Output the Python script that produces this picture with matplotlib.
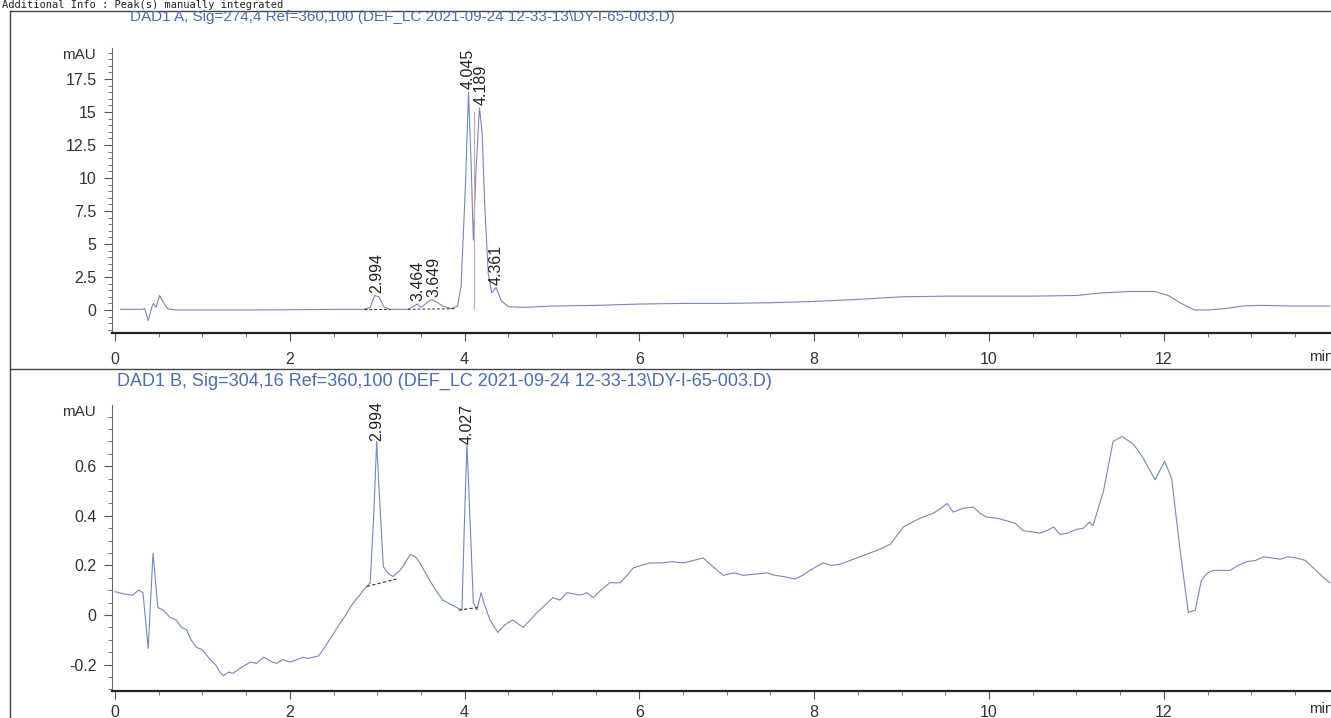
import numpy as np
import matplotlib
matplotlib.use('Agg')
import matplotlib.pyplot as plt
from matplotlib.lines import Line2D
from matplotlib.ticker import MultipleLocator

plt.rcParams['font.family'] = ['Liberation Sans', 'DejaVu Sans']

# DAD1 A (274 nm)
time_a = [0.06, 0.30, 0.34, 0.38, 0.42, 0.44, 0.47, 0.51, 0.55, 0.60, 0.70, 1.50, 2.00, 2.50,
          2.85, 2.92, 2.97, 3.02, 3.08, 3.15, 3.35, 3.42, 3.46, 3.50, 3.56, 3.62, 3.68, 3.75,
          3.85, 3.92, 3.96, 4.01, 4.045, 4.075, 4.10, 4.13, 4.17, 4.20, 4.23, 4.27, 4.31, 4.36,
          4.42, 4.50, 4.70, 5.00, 5.50, 6.00, 6.50, 7.00, 7.50, 8.00, 8.50, 9.00, 9.50, 10.00,
          10.50, 11.00, 11.30, 11.60, 11.90, 12.05, 12.20, 12.35, 12.50, 12.70, 12.90, 13.10,
          13.50, 13.90]
mau_a = [0.05, 0.05, 0.10, -0.80, 0.20, 0.50, 0.20, 1.10, 0.60, 0.10, 0.00, 0.00, 0.02, 0.05,
         0.05, 0.20, 1.10, 1.00, 0.20, 0.05, 0.05, 0.30, 0.45, 0.20, 0.50, 0.80, 0.60, 0.30,
         0.10, 0.30, 1.80, 9.5, 16.5, 11.0, 5.3, 10.5, 15.3, 13.5, 8.0, 2.8, 1.3, 1.7,
         0.70, 0.25, 0.20, 0.30, 0.35, 0.45, 0.50, 0.50, 0.55, 0.65, 0.80, 1.00, 1.05, 1.05,
         1.05, 1.10, 1.30, 1.40, 1.40, 1.10, 0.50, 0.00, 0.00, 0.10, 0.30, 0.35,
         0.30, 0.30]
peaks_a = [2.994, 3.464, 3.649, 4.045, 4.189, 4.361]
peaks_a_h = [1.1, 0.45, 0.8, 16.5, 15.3, 1.7]

# DAD1 B (304 nm)
time_b = [0.00, 0.10, 0.20, 0.27, 0.32, 0.38, 0.435, 0.49, 0.55, 0.63, 0.70, 0.76, 0.82, 0.87,
          0.93, 1.00, 1.09, 1.15, 1.20, 1.24, 1.30, 1.35, 1.43, 1.50, 1.55, 1.62, 1.70, 1.75,
          1.80, 1.85, 1.92, 2.00, 2.08, 2.15, 2.20, 2.27, 2.33, 2.40, 2.50, 2.58, 2.64, 2.69,
          2.75, 2.80, 2.84, 2.92, 2.96, 2.994, 3.03, 3.07, 3.12, 3.18, 3.26, 3.32, 3.38, 3.45,
          3.52, 3.60, 3.67, 3.75, 3.83, 3.91, 3.97, 4.00, 4.027, 4.06, 4.10, 4.14, 4.19, 4.22,
          4.29, 4.38, 4.46, 4.55, 4.67, 4.75, 4.83, 4.92, 5.01, 5.09, 5.17, 5.25, 5.32, 5.40,
          5.47, 5.56, 5.66, 5.78, 5.86, 5.93, 6.02, 6.12, 6.25, 6.38, 6.50, 6.62, 6.73, 6.84,
          6.96, 7.08, 7.19, 7.32, 7.46, 7.55, 7.65, 7.78, 7.87, 7.95, 8.10, 8.20, 8.30, 8.45,
          8.60, 8.75, 8.87, 9.02, 9.10, 9.21, 9.36, 9.45, 9.52, 9.59, 9.70, 9.82, 9.90, 9.97,
          10.10, 10.20, 10.30, 10.39, 10.50, 10.58, 10.66, 10.74, 10.81, 10.90, 11.00, 11.08,
          11.15, 11.19, 11.31, 11.42, 11.52, 11.65, 11.76, 11.90, 12.01, 12.09, 12.18, 12.28,
          12.36, 12.43, 12.50, 12.57, 12.66, 12.76, 12.85, 12.95, 13.05, 13.14, 13.24, 13.33,
          13.42, 13.52, 13.62, 13.71, 13.80, 13.90]
mau_b = [0.094, 0.085, 0.08, 0.10, 0.09, -0.135, 0.25, 0.03, 0.02, -0.01, -0.02, -0.05, -0.06,
         -0.10, -0.13, -0.14, -0.18, -0.20, -0.23, -0.245, -0.23, -0.235, -0.215, -0.20, -0.19,
         -0.195, -0.17, -0.18, -0.19, -0.195, -0.18, -0.19, -0.18, -0.17, -0.175, -0.17, -0.165,
         -0.13, -0.075, -0.03, 0.00, 0.03, 0.06, 0.08, 0.10, 0.13, 0.40, 0.70, 0.45, 0.195,
         0.17, 0.155, 0.18, 0.21, 0.245, 0.23, 0.19, 0.14, 0.10, 0.06, 0.045, 0.03, 0.02, 0.40,
         0.69, 0.40, 0.05, 0.02, 0.09, 0.05, -0.02, -0.07, -0.04, -0.02, -0.05, -0.02, 0.01,
         0.04, 0.07, 0.06, 0.09, 0.085, 0.08, 0.09, 0.07, 0.10, 0.13, 0.13, 0.16, 0.19, 0.20,
         0.21, 0.21, 0.215, 0.21, 0.22, 0.23, 0.195, 0.16, 0.17, 0.16, 0.165, 0.17, 0.16, 0.155,
         0.145, 0.16, 0.18, 0.21, 0.20, 0.205, 0.225, 0.245, 0.265, 0.285, 0.355, 0.37, 0.39,
         0.41, 0.43, 0.45, 0.415, 0.43, 0.435, 0.41, 0.395, 0.39, 0.38, 0.37, 0.34, 0.335, 0.33,
         0.34, 0.355, 0.325, 0.33, 0.345, 0.35, 0.375, 0.36, 0.50, 0.70, 0.72, 0.69, 0.635,
         0.545, 0.62, 0.55, 0.28, 0.01, 0.02, 0.14, 0.17, 0.18, 0.18, 0.18, 0.20, 0.215, 0.22,
         0.235, 0.23, 0.225, 0.235, 0.23, 0.22, 0.19, 0.16, 0.13]
peaks_b = [2.994, 4.027]
peaks_b_h = [0.70, 0.69]

title_a = r'DAD1 A, Sig=274,4 Ref=360,100 (DEF_LC 2021-09-24 12-33-13\DY-I-65-003.D)'
title_b = r'DAD1 B, Sig=304,16 Ref=360,100 (DEF_LC 2021-09-24 12-33-13\DY-I-65-003.D)'

W, H = 1331, 718
trace_col = '#7487c0'
txt_col = '#333333'
title_col = '#4d6cab'


def fx(px):
    return px / W


def fy(py):
    return 1 - py / H


fig = plt.figure(figsize=(W / 100, H / 100), dpi=100)

# cadre de la page scannee
for (x0, y0, x1, y1) in [(10, 11, 10, 718), (10, 11, 1331, 11), (10, 369, 1331, 369)]:
    fig.add_artist(Line2D([fx(x0), fx(x1)], [fy(y0), fy(y1)], transform=fig.transFigure,
                          color='#444444', lw=1.0))

fig.text(fx(2), fy(4.5), 'Additional Info : Peak(s) manually integrated', family='DejaVu Sans Mono',
         fontsize=7.5, color='#222222', va='center', ha='left')

xlim = ((112 - 115) / 87.4, (1331 - 115) / 87.4)

ax_a = fig.add_axes([fx(112), fy(333), 1 - fx(112), fy(48) - fy(333)])
ax_b = fig.add_axes([fx(112), fy(691), 1 - fx(112), fy(405) - fy(691)])
ax_a.set_ylim((310 - 333) / 13.2, (310 - 48) / 13.2)
ax_b.set_ylim((615 - 691) / 248, (615 - 405) / 248)

for ax in (ax_a, ax_b):
    ax.set_xlim(*xlim)
    ax.patch.set_alpha(0)
    for s in ('top', 'right'):
        ax.spines[s].set_visible(False)
    ax.spines['bottom'].set_linewidth(1.6)
    ax.spines['bottom'].set_color('#222222')
    ax.spines['left'].set_linewidth(0.8)
    ax.spines['left'].set_color('#666666')
    ax.xaxis.set_major_locator(MultipleLocator(2))
    ax.xaxis.set_minor_locator(MultipleLocator(0.5))
    ax.tick_params(axis='both', which='major', labelsize=11.5, labelcolor=txt_col, color='#555555',
                   length=6, width=0.8, direction='out')
    ax.tick_params(axis='both', which='minor', color='#777777', length=3, width=0.7, direction='out')
    ax.tick_params(axis='y', pad=5)

ax_a.tick_params(axis='x', pad=8)
ax_b.tick_params(axis='x', pad=4)

ax_a.yaxis.set_minor_locator(MultipleLocator(0.5))
ax_a.set_yticks([0, 2.5, 5, 7.5, 10, 12.5, 15, 17.5])
ax_a.set_yticklabels(['0', '2.5', '5', '7.5', '10', '12.5', '15', '17.5'])
ax_b.set_yticks([-0.2, 0, 0.2, 0.4, 0.6])
ax_b.set_yticklabels(['-0.2', '0', '0.2', '0.4', '0.6'])
ax_b.yaxis.set_minor_locator(MultipleLocator(0.05))

# traces
ax_a.plot(time_a, mau_a, color=trace_col, lw=0.8)
ax_b.plot(time_b, mau_b, color=trace_col, lw=0.8)

# lignes de base d'integration
ax_a.plot([2.85, 3.15], [0.05, 0.05], color='#333333', lw=0.7, ls=(0, (3, 2)))
ax_a.plot([3.35, 3.90], [0.05, 0.10], color='#333333', lw=0.7, ls=(0, (3, 2)))
ax_a.plot([4.11, 4.11], [0.1, 15.0], color='#d9a0a8', lw=0.8)
ax_b.plot([2.88, 3.22], [0.115, 0.145], color='#333333', lw=0.8, ls=(0, (3, 2)))
ax_b.plot([3.93, 4.15], [0.02, 0.03], color='#333333', lw=0.8, ls=(0, (3, 2)))

# temps de retention
for t, h in zip(peaks_a, peaks_a_h):
    ax_a.annotate(f'{t:.3f}', xy=(t, h), xytext=(0, 2), textcoords='offset points',
                  rotation=90, ha='center', va='bottom', fontsize=11.5, color='#222222',
                  annotation_clip=False)
for t, h in zip(peaks_b, peaks_b_h):
    ax_b.annotate(f'{t:.3f}', xy=(t, h), xytext=(0, 0), textcoords='offset points',
                  rotation=90, ha='center', va='bottom', fontsize=11.5, color='#222222',
                  annotation_clip=False)

fig.text(fx(130), fy(17), title_a, fontsize=11, color=title_col, va='center', ha='left')
fig.text(fx(117), fy(381), title_b, fontsize=13, color=title_col, va='center', ha='left')

for py in (55, 412):
    fig.text(fx(96), fy(py), 'mAU', fontsize=11, color=txt_col, va='center', ha='right')
fig.text(fx(1309), fy(357), 'min', fontsize=11, color=txt_col, va='center', ha='left')
fig.text(fx(1309), fy(709), 'min', fontsize=11, color=txt_col, va='center', ha='left')

fig.savefig('out.png', dpi=100)
